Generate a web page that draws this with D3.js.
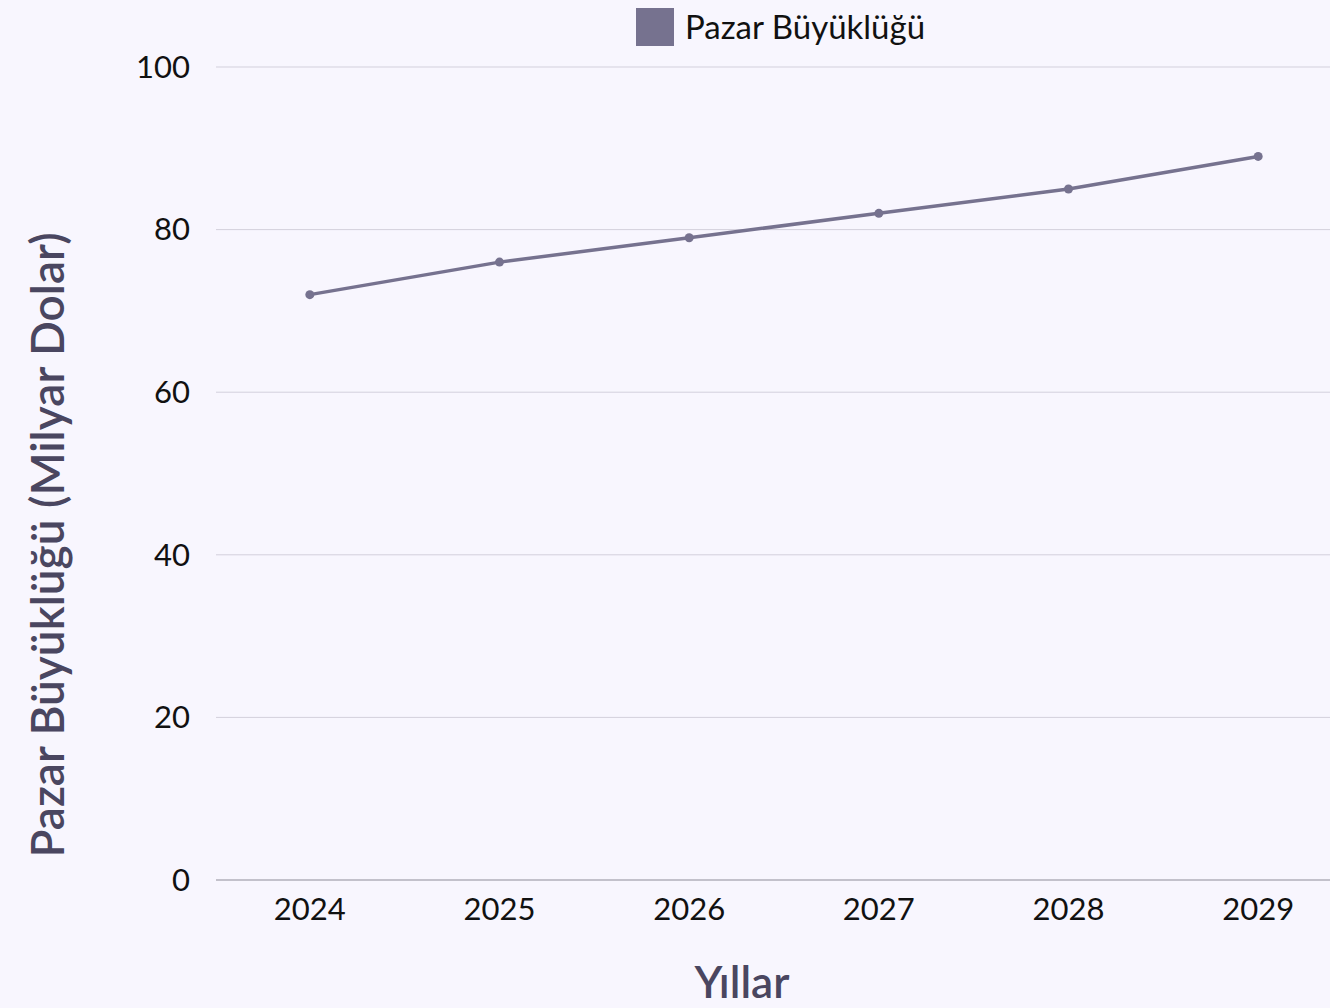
<!DOCTYPE html>
<html>
<head>
<meta charset="utf-8">
<script src="https://cdn.jsdelivr.net/npm/d3@7"></script>
<style>
  html, body { margin: 0; padding: 0; background: #f8f6fe; }
  svg { display: block; font-family: "Lato", "Noto Sans", sans-serif; }
</style>
</head>
<body>
<div id="chart"></div>
<script>
// data
const years = ["2024", "2025", "2026", "2027", "2028", "2029"];
const marketSize = [72, 76, 79, 82, 85, 89];
const yTicks = [0, 20, 40, 60, 80, 100];
const seriesName = "Pazar Büyüklüğü";

const W = 1330, H = 1008;
const lineColor = "#76728f";

const svg = d3.select("#chart").append("svg")
  .attr("width", W).attr("height", H);

svg.append("rect").attr("width", W).attr("height", H).attr("fill", "#f8f6fe");

const x = d3.scaleBand().domain(years).range([215, 1353]);
const y = d3.scaleLinear().domain([0, 100]).range([880, 67]);

// grid
svg.append("g").selectAll("line").data(yTicks.filter((d) => d > 0)).join("line")
  .attr("x1", 216).attr("x2", W)
  .attr("y1", (d) => y(d)).attr("y2", (d) => y(d))
  .attr("stroke", "#d3d0dc").attr("stroke-width", 1);

// zero line
svg.append("line")
  .attr("x1", 216).attr("x2", W).attr("y1", y(0)).attr("y2", y(0))
  .attr("stroke", "#8e8c98").attr("stroke-width", 1.2);

// y tick labels
svg.append("g").selectAll("text").data(yTicks).join("text")
  .attr("x", 190).attr("y", (d) => y(d)).attr("dy", "0.35em")
  .attr("text-anchor", "end").attr("font-size", 31).attr("fill", "#111")
  .text((d) => d);

// x tick labels
svg.append("g").selectAll("text").data(years).join("text")
  .attr("x", (d) => x(d) + x.bandwidth() / 2).attr("y", 920)
  .attr("text-anchor", "middle").attr("font-size", 31).attr("fill", "#111")
  .text((d) => d);

// line
const pts = years.map((yr, i) => ({ yr, v: marketSize[i] }));
svg.append("path").datum(pts)
  .attr("fill", "none").attr("stroke", lineColor).attr("stroke-width", 3.5)
  .attr("d", d3.line().x((d) => x(d.yr) + x.bandwidth() / 2).y((d) => y(d.v)));

svg.append("g").selectAll("circle").data(pts).join("circle")
  .attr("cx", (d) => x(d.yr) + x.bandwidth() / 2).attr("cy", (d) => y(d.v))
  .attr("r", 4.5).attr("fill", lineColor);

// legend
svg.append("rect").attr("x", 636).attr("y", 8).attr("width", 38).attr("height", 38)
  .attr("fill", lineColor);
svg.append("text").attr("x", 685).attr("y", 27).attr("dy", "0.35em")
  .attr("font-size", 33).attr("fill", "#111").text(seriesName);

// axis titles
svg.append("text").attr("x", 742).attr("y", 998)
  .attr("text-anchor", "middle").attr("font-size", 44).attr("font-weight", 600)
  .attr("fill", "#4a4660").text("Yıllar");

svg.append("text")
  .attr("transform", "translate(48,545) rotate(-90)").attr("dy", "0.35em")
  .attr("text-anchor", "middle").attr("font-size", 46).attr("font-weight", 600)
  .attr("fill", "#4a4660").text("Pazar Büyüklüğü (Milyar Dolar)");
</script>
</body>
</html>
